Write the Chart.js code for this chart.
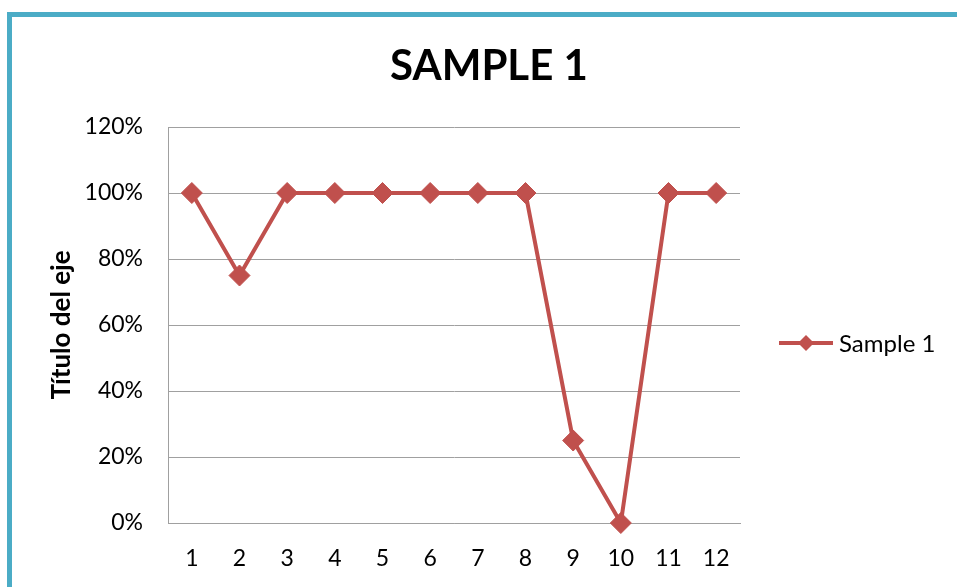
<!DOCTYPE html>
<html>
<head>
<meta charset="utf-8">
<script src="https://cdn.jsdelivr.net/npm/chart.js@4"></script>
<style>
  html, body { margin: 0; padding: 0; background: #fff; overflow: hidden; }
  #wrap { position: relative; width: 957px; height: 587px; }
  #frame { position: absolute; left: 7px; top: 12px; width: 2000px; height: 2000px;
           border-left: 5px solid #4BACC6; border-top: 5px solid #4BACC6; pointer-events: none; }
  canvas { position: absolute; left: 0; top: 0; }
</style>
</head>
<body>
<div id="wrap">
  <canvas id="c" width="957" height="587"></canvas>
  <div id="frame"></div>
</div>
<script>
const chartTitle = 'SAMPLE 1';
const yAxisTitle = 'Título del eje';
const seriesName = 'Sample 1';
const categories = ['1', '2', '3', '4', '5', '6', '7', '8', '9', '10', '11', '12'];
const sample1 = [100, 75, 100, 100, 100, 100, 100, 100, 25, 0, 100, 100];
const yMin = 0, yMax = 120, yStep = 20;

const RED = '#C0504D';
const GRID = '#A0A0A0';
const FONT = 'Lato, "Open Sans", "Liberation Sans", sans-serif';

const titlePlugin = {
  id: 'excelTitle',
  afterDraw(chart) {
    const ctx = chart.ctx;
    ctx.save();
    ctx.font = 'bold 42px ' + FONT;
    ctx.fillStyle = '#000';
    ctx.textAlign = 'center';
    ctx.textBaseline = 'alphabetic';
    ctx.fillText(chartTitle, 489, 80);
    ctx.restore();
  }
};

const legendPlugin = {
  id: 'excelLegend',
  afterDraw(chart) {
    const ctx = chart.ctx;
    const ds = chart.data.datasets[0];
    const y = 343;
    ctx.save();
    ctx.strokeStyle = ds.borderColor;
    ctx.lineWidth = 4;
    ctx.beginPath();
    ctx.moveTo(779, y);
    ctx.lineTo(833, y);
    ctx.stroke();
    const r = 8;
    ctx.fillStyle = ds.backgroundColor;
    ctx.beginPath();
    ctx.moveTo(806 - r, y);
    ctx.lineTo(806, y - r);
    ctx.lineTo(806 + r, y);
    ctx.lineTo(806, y + r);
    ctx.closePath();
    ctx.fill();
    ctx.font = '24px ' + FONT;
    ctx.fillStyle = '#000';
    ctx.textAlign = 'left';
    ctx.textBaseline = 'alphabetic';
    ctx.fillText(ds.label, 839, 352);
    ctx.restore();
  }
};

new Chart(document.getElementById('c'), {
  type: 'line',
  data: {
    labels: categories,
    datasets: [{
      label: seriesName,
      data: sample1,
      borderColor: RED,
      backgroundColor: RED,
      borderWidth: 4,
      pointStyle: 'rectRot',
      pointRadius: 10.5,
      pointHoverRadius: 10.5,
      pointBorderWidth: 1,
      pointBackgroundColor: RED,
      pointBorderColor: RED,
      tension: 0,
      clip: false
    }]
  },
  options: {
    responsive: false,
    devicePixelRatio: 1,
    animation: false,
    events: [],
    layout: { padding: { left: 46, right: 217, top: 127, bottom: 0 } },
    plugins: {
      legend: { display: false },
      title: { display: false },
      tooltip: { enabled: false }
    },
    scales: {
      x: {
        type: 'category',
        offset: true,
        grid: { display: false, drawTicks: false },
        border: { display: true, color: GRID, width: 1 },
        ticks: { color: '#000', padding: 22, font: { family: FONT, size: 23 }, maxRotation: 0, autoSkip: false },
        afterFit(scale) { scale.height = 64; }
      },
      y: {
        min: yMin,
        max: yMax,
        grid: { color: GRID, lineWidth: 1, drawTicks: false },
        border: { display: true, color: GRID, width: 1 },
        ticks: {
          stepSize: yStep,
          color: '#000',
          padding: 25,
          font: { family: FONT, size: 23 },
          callback: v => v + '%'
        },
        title: {
          display: true,
          text: yAxisTitle,
          color: '#000',
          padding: { top: 0, bottom: 0 },
          font: { family: FONT, size: 26, weight: 'bold' }
        },
        afterFit(scale) { scale.width = 122; }
      }
    }
  },
  plugins: [titlePlugin, legendPlugin]
});
</script>
</body>
</html>
